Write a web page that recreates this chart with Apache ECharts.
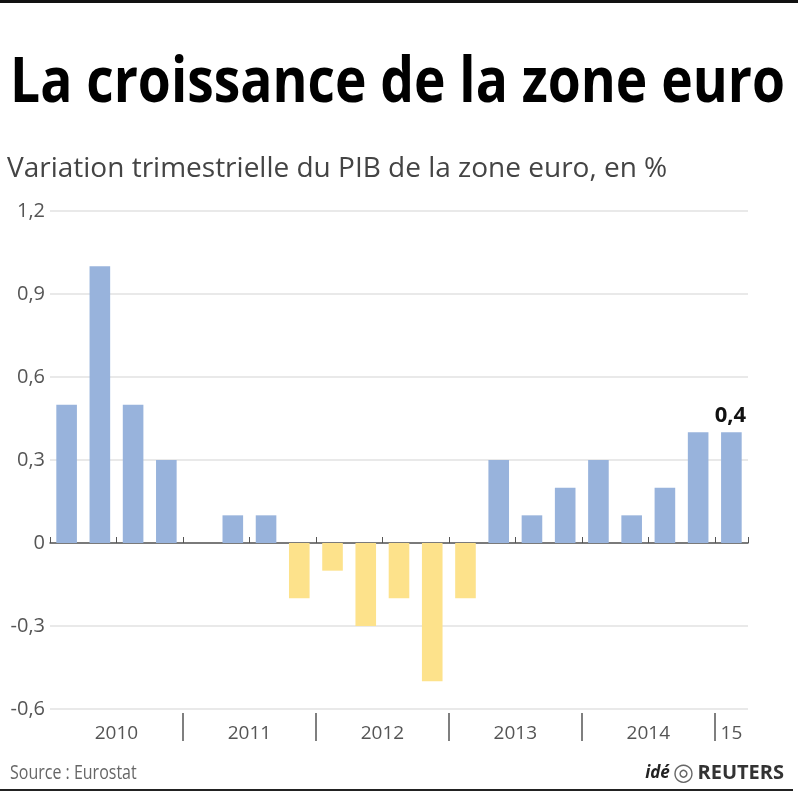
<!DOCTYPE html>
<html>
<head>
<meta charset="utf-8">
<script src="https://cdn.jsdelivr.net/npm/echarts@6/dist/echarts.min.js"></script>
<style>
  html, body { margin: 0; padding: 0; background: #fff; }
  #chart { width: 798px; height: 800px; }
</style>
</head>
<body>
<div id="chart"></div>
<script>
// trimestres 2010 T1 -> 2015 T1
const quarters = [
  '2010 T1', '2010 T2', '2010 T3', '2010 T4',
  '2011 T1', '2011 T2', '2011 T3', '2011 T4',
  '2012 T1', '2012 T2', '2012 T3', '2012 T4',
  '2013 T1', '2013 T2', '2013 T3', '2013 T4',
  '2014 T1', '2014 T2', '2014 T3', '2014 T4',
  '2015 T1'
]
const growth = [
  0.5, 1.0, 0.5, 0.3,
  0.0, 0.1, 0.1, -0.2,
  -0.1, -0.3, -0.2, -0.5,
  -0.2, 0.3, 0.1, 0.2,
  0.3, 0.1, 0.2, 0.4,
  0.4
]
const yearLabels = ['2010', '2011', '2012', '2013', '2014', '15']
const yTicks = [-0.6, -0.3, 0, 0.3, 0.6, 0.9, 1.2]

const titleText = 'La croissance de la zone euro'
const subtitleText = 'Variation trimestrielle du PIB de la zone euro, en %'

// position des années sur l'axe (centre du groupe de trimestres)
const yearCenters = []
const yearBounds = []
yearLabels.forEach((y, i) => {
  const full = y.length === 2 ? '20' + y : y
  const idx = quarters.map((q, k) => q.startsWith(full) ? k : -1).filter(k => k >= 0)
  yearCenters.push((idx[0] + idx[idx.length - 1] + 1) / 2)
  if (i > 0) yearBounds.push(idx[0])
})

const fmt = v => String(Math.round(v * 10) / 10).replace('.', ',')

// le titre est condensé pour tenir dans la largeur
const measure = (text, font) => {
  const ctx = document.createElement('canvas').getContext('2d')
  ctx.font = font
  return ctx.measureText(text).width
}
const titleFont = 'bold 62px "Open Sans"'
const titleScale = 775 / measure(titleText, titleFont)

const chart = echarts.init(document.getElementById('chart'))
chart.setOption({
  animation: false,
  textStyle: { fontFamily: 'Open Sans' },
  grid: { left: 50, right: 50, top: 211, bottom: 91 },
  xAxis: [{
    type: 'category',
    data: quarters,
    boundaryGap: true,
    axisLine: { lineStyle: { color: '#555', width: 1.5 } },
    axisTick: { show: true, inside: true, length: 6, lineStyle: { color: '#555' } },
    axisLabel: { show: false }
  }, {
    type: 'value',
    min: 0, max: quarters.length,
    position: 'bottom',
    offset: 4,
    axisLine: { show: false },
    splitLine: { show: false },
    axisTick: { show: true, length: 28, customValues: yearBounds, lineStyle: { color: '#555', width: 1.5 } },
    axisLabel: {
      customValues: yearCenters,
      margin: 11,
      fontSize: 19,
      color: '#555',
      formatter: v => yearLabels[yearCenters.indexOf(v)]
    }
  }],
  yAxis: {
    type: 'value',
    min: yTicks[0], max: yTicks[yTicks.length - 1], interval: 0.3,
    axisLine: { show: false },
    axisTick: { show: false },
    splitLine: { lineStyle: { color: '#e2e2e2', width: 1.5 } },
    axisLabel: { fontSize: 20, color: '#555', margin: 5, formatter: fmt }
  },
  series: [{
    type: 'bar',
    xAxisIndex: 0,
    barWidth: '62%',
    data: growth.map((v, i) => ({
      value: v,
      itemStyle: { color: v < 0 ? '#fde28b' : '#98b3dc' },
      label: i === growth.length - 1 ? {
        show: true, position: 'top', distance: 6, offset: [-1, 0],
        formatter: p => fmt(p.value),
        fontSize: 22, fontWeight: 'bold', color: '#111'
      } : { show: false }
    }))
  }],
  graphic: [
    { type: 'rect', shape: { x: 0, y: 0, width: 798, height: 3 }, style: { fill: '#111' } },
    { type: 'rect', shape: { x: 0, y: 789, width: 793, height: 2 }, style: { fill: '#222' } },
    {
      type: 'text', x: 10, y: 53, scaleX: titleScale,
      style: { text: titleText, font: titleFont, fill: '#000' }
    },
    {
      type: 'text', x: 7, y: 155,
      style: { text: subtitleText, fontFamily: 'Open Sans', fontSize: 28, fill: '#444' }
    },
    {
      type: 'text', x: 10, y: 763, scaleX: 0.8,
      style: { text: 'Source : Eurostat', fontFamily: 'Open Sans', fontSize: 20, fill: '#666' }
    },
    {
      type: 'text', right: 14, top: 761,
      style: {
        text: '{a|idé} {b|◎} {c|REUTERS}',
        rich: {
          a: { fontFamily: 'Open Sans', fontStyle: 'italic', fontWeight: 'bold', fontSize: 17, fill: '#222' },
          b: { fontSize: 24, fill: '#666' },
          c: { fontFamily: 'Open Sans', fontWeight: 'bold', fontSize: 20, fill: '#333' }
        }
      }
    }
  ]
})
</script>
</body>
</html>
